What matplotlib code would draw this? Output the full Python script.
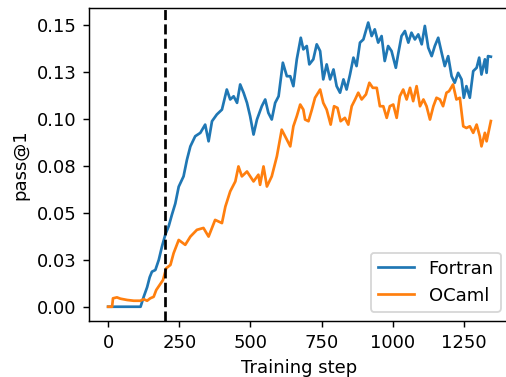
import matplotlib
matplotlib.use("Agg")
import matplotlib.pyplot as plt

fortran_steps = [0, 114, 125, 137, 146, 154, 166, 178, 189, 201, 213, 224, 236, 248, 265, 277, 289,
                 306, 324, 341, 353, 365, 382, 400, 417, 429, 441, 453, 464, 476, 488, 499, 511,
                 523, 540, 552, 563, 575, 587, 599, 614, 628, 640, 651, 663, 677, 686, 698, 707,
                 721, 733, 745, 756, 768, 780, 792, 803, 815, 827, 838, 850, 862, 873, 885, 897,
                 914, 926, 937, 949, 961, 972, 984, 996, 1011, 1019, 1031, 1043, 1055, 1066, 1078,
                 1090, 1102, 1113, 1125, 1137, 1148, 1160, 1172, 1183, 1195, 1207, 1218, 1230,
                 1242, 1250, 1259, 1271, 1283, 1295, 1304, 1312, 1324, 1330, 1335, 1345]
fortran_vals = [0.0, 0.0, 0.0053, 0.0104, 0.0157, 0.0187, 0.0196, 0.025, 0.032, 0.0385, 0.043,
                0.049, 0.055, 0.064, 0.0695, 0.0784, 0.0855, 0.0909, 0.0927, 0.0971, 0.0882,
                0.0989, 0.1025, 0.1051, 0.1158, 0.1105, 0.1122, 0.1087, 0.1185, 0.1141, 0.1087,
                0.1016, 0.0918, 0.0998, 0.1069, 0.1105, 0.1034, 0.0998, 0.1087, 0.1122, 0.1301,
                0.1229, 0.1229, 0.1176, 0.1319, 0.1434, 0.1372, 0.139, 0.1292, 0.1319, 0.1399,
                0.1363, 0.1212, 0.1292, 0.1212, 0.1265, 0.1176, 0.1141, 0.1212, 0.1158, 0.1238,
                0.1328, 0.1283, 0.1408, 0.1425, 0.1515, 0.1443, 0.1479, 0.1408, 0.1443, 0.1310,
                0.139, 0.1363, 0.1274, 0.1345, 0.1443, 0.147, 0.1408, 0.1461, 0.1425, 0.1452,
                0.1399, 0.1497, 0.1381, 0.1336, 0.139, 0.1434, 0.1354, 0.1283, 0.1336, 0.1229,
                0.1194, 0.1247, 0.1212, 0.1114, 0.1176, 0.1114, 0.1256, 0.1274, 0.1328, 0.1238,
                0.1319, 0.1247, 0.1336, 0.1333]

ocaml_steps = [0, 14, 17, 31, 43, 67, 90, 113, 125, 137, 148, 160, 169, 181, 193, 204, 219, 230,
               248, 271, 289, 312, 335, 353, 376, 400, 412, 429, 447, 458, 470, 488, 511, 528,
               534, 546, 558, 575, 593, 610, 628, 640, 651, 663, 675, 686, 692, 704, 716, 727,
               745, 756, 768, 782, 794, 806, 817, 832, 844, 856, 868, 879, 891, 906, 918, 930,
               944, 955, 967, 979, 990, 1002, 1014, 1025, 1037, 1049, 1061, 1072, 1084, 1096,
               1108, 1119, 1131, 1143, 1154, 1166, 1177, 1189, 1198, 1212, 1224, 1236, 1248,
               1259, 1271, 1283, 1295, 1306, 1312, 1324, 1330, 1345]
ocaml_vals = [0.0, 0.0, 0.0045, 0.005, 0.0043, 0.0036, 0.0032, 0.0032, 0.004, 0.0032, 0.0045,
              0.0053, 0.0089, 0.0116, 0.0143, 0.0205, 0.0223, 0.0285, 0.0356, 0.033, 0.0374,
              0.041, 0.042, 0.0374, 0.0463, 0.0446, 0.0534, 0.0615, 0.0668, 0.0748, 0.0695,
              0.0721, 0.0668, 0.0704, 0.065, 0.0748, 0.0641, 0.0695, 0.0802, 0.0944, 0.0891,
              0.0855, 0.0962, 0.1016, 0.1078, 0.1051, 0.0998, 0.0989, 0.1051, 0.1114, 0.1158,
              0.1087, 0.1051, 0.0971, 0.1069, 0.106, 0.0989, 0.1007, 0.0971, 0.1069, 0.1105,
              0.1141, 0.1105, 0.1132, 0.1194, 0.1167, 0.1167, 0.1069, 0.1069, 0.1007, 0.1069,
              0.1078, 0.1007, 0.1122, 0.1158, 0.1105, 0.1167, 0.1096, 0.1176, 0.1069, 0.1105,
              0.1069, 0.0998, 0.1069, 0.1114, 0.1105, 0.1069, 0.1141, 0.1149, 0.1185, 0.1105,
              0.1114, 0.0962, 0.0953, 0.0962, 0.0927, 0.0971, 0.0909, 0.0855, 0.0927, 0.0882,
              0.099]

cutoff_step = 200
ytick_vals = [0.0, 0.025, 0.05, 0.075, 0.1, 0.125, 0.15]
ytick_labels = ["0.00", "0.03", "0.05", "0.08", "0.10", "0.13", "0.15"]
xtick_vals = [0, 250, 500, 750, 1000, 1250]

dpi = 130
fig = plt.figure(figsize=(506 / dpi, 377 / dpi), dpi=dpi)
W, H = 506, 377
left, right, bottom, top = 89, 510, 321, 8.3
ax = fig.add_axes([left / W, (H - bottom) / H, (right - left) / W, (bottom - top) / H])

ax.plot(fortran_steps, fortran_vals, color="#1f77b4", lw=1.5, label="Fortran")
ax.plot(ocaml_steps, ocaml_vals, color="#ff7f0e", lw=1.5, label="OCaml")
ax.axvline(cutoff_step, color="black", ls="--", lw=1.5)

ax.set_xlim(-67.25, 1412.25)
ax.set_ylim(-0.0076, 0.1591)
ax.set_xticks(xtick_vals)
ax.set_yticks(ytick_vals)
ax.set_yticklabels(ytick_labels)
ax.set_xlabel("Training step")
ax.set_ylabel("pass@1")
ax.legend(loc="lower right")

fig.savefig("out.png", dpi=dpi)
